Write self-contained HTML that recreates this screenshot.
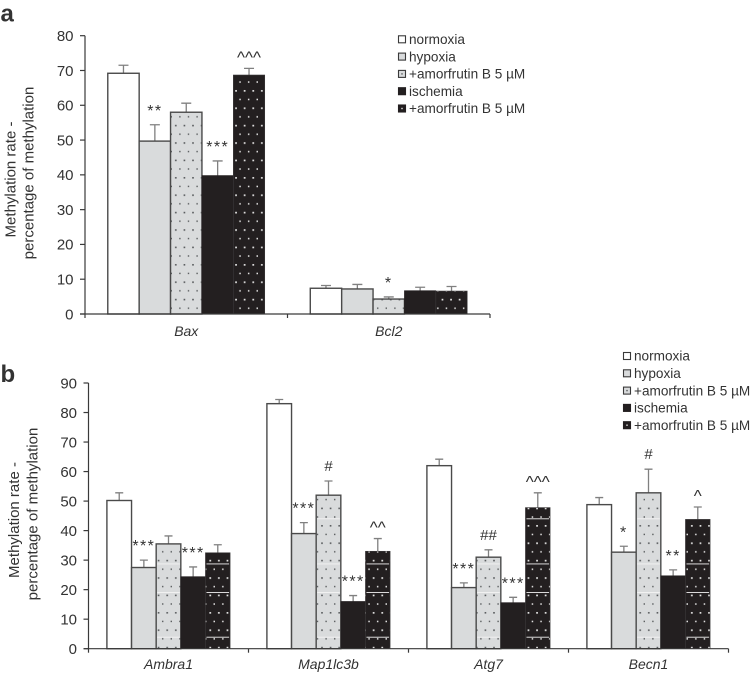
<!DOCTYPE html>
<html lang="en">
<head>
<meta charset="utf-8">
<title>Methylation rate charts</title>
<style>
html,body{margin:0;padding:0;background:#fff;}
svg{display:block;}
text{font-family:"Liberation Sans",Arial,sans-serif;fill:#333;}
</style>
</head>
<body>
<svg id="figure" xmlns="http://www.w3.org/2000/svg" width="750" height="674" viewBox="0 0 750 674">
<defs>
<pattern id="dots-light" width="8.6" height="17.4" patternUnits="userSpaceOnUse">
<rect width="8.6" height="17.4" fill="#d9dbdc"/>
<rect x="3" y="3" width="1.6" height="1.6" fill="#55585a"/>
<rect x="7.2" y="11.7" width="1.4" height="1.4" fill="#55585a"/>
</pattern>
<pattern id="dots-dark" width="8.6" height="17.4" patternUnits="userSpaceOnUse">
<rect width="8.6" height="17.4" fill="#231f20"/>
<rect x="3" y="3" width="1.7" height="1.7" fill="#e6e6e6"/>
<rect x="7.1" y="11.7" width="1.5" height="1.5" fill="#e6e6e6"/>
</pattern>
</defs>
</svg>
<script>
var seriesNames = ["normoxia", "hypoxia", "+amorfrutin B 5 µM", "ischemia", "+amorfrutin B 5 µM"];

var categoriesA = ["Bax", "Bcl2"];
var valuesA = [
  [69.2, 7.4],
  [49.7, 7.2],
  [58.0, 4.3],
  [39.8, 6.7],
  [68.7, 6.6]
];
var errorTopsA = [
  [71.5, 8.2],
  [54.4, 8.5],
  [60.6, 4.9],
  [44.0, 7.7],
  [70.6, 7.9]
];
var marksA = [
  ["", ""],
  ["**", ""],
  ["", "*"],
  ["***", ""],
  ["^^^", ""]
];
var ticksA = [0, 10, 20, 30, 40, 50, 60, 70, 80];

var categoriesB = ["Ambra1", "Map1lc3b", "Atg7", "Becn1"];
var valuesB = [
  [50.2, 83.0, 62.0, 48.8],
  [27.5, 39.0, 20.7, 32.7],
  [35.5, 52.0, 31.0, 52.8],
  [24.4, 16.0, 15.6, 24.7],
  [32.5, 33.0, 47.8, 43.8]
];
var errorTopsB = [
  [52.8, 84.4, 64.2, 51.2],
  [30.0, 42.7, 22.3, 34.7],
  [38.2, 56.8, 33.5, 60.8],
  [27.7, 18.0, 17.4, 26.7],
  [35.2, 37.3, 52.8, 48.0]
];
var marksB = [
  ["", "", "", ""],
  ["***", "***", "***", "*"],
  ["", "#", "##", "#"],
  ["***", "***", "***", "**"],
  ["", "^^", "^^^", "^"]
];
var ticksB = [0, 10, 20, 30, 40, 50, 60, 70, 80, 90];
var stripeValuesB = [3.9, 19, 28.7, 44];

var SVGNS = "http://www.w3.org/2000/svg";
var fig = document.getElementById("figure");
var fills = ["#ffffff", "#d9dbdc", "url(#dots-light)", "#231f20", "url(#dots-dark)"];

function make(tag, attrs, parent, txt) {
  var el = document.createElementNS(SVGNS, tag);
  for (var k in attrs) { el.setAttribute(k, attrs[k]); }
  if (txt !== undefined) { el.textContent = txt; }
  (parent || fig).appendChild(el);
  return el;
}

function drawChart(cfg) {
  var g = make("g", {});
  
  

  function yPos(v) { return cfg.y0 - (v - 0) * (cfg.y0 - cfg.yTop) / cfg.yMax; }
  var n = cfg.categories.length;
  var catW = (cfg.xEnd - cfg.x0) / n;
  var barW = catW * cfg.barFrac;
  var pad = (catW - barW * 5) / 2;
  function xPos(c, s) { return cfg.x0 + c * catW + pad + s * barW; }

  for (var s = 0; s < 5; s++) {
    for (var c = 0; c < n; c++) {
      var val = cfg.values[s][c];
      var x = xPos(c, s), top = yPos(val);
      var cx = x + barW / 2;
      var err = make("path", {
        d: "M" + cx + " " + top + "V" + yPos(cfg.errors[s][c]) + "m" + (-cfg.cap / 2) + " 0h" + cfg.cap,
        stroke: "#808080", "stroke-width": 1.3, fill: "none"
      }, g);
      
      
      var noStroke = s >= 3;
      var bar = make("rect", {
        x: x, y: top, width: barW, height: cfg.y0 - top,
        fill: fills[s],
        stroke: s === 4 ? "#3c3a3b" : (s === 3 ? "#231f20" : "#4a4a4a"),
        "stroke-width": noStroke ? 0.6 : 1.4
      }, g);
      
      
      if (cfg.stripes && (s === 2 || s === 4)) {
        cfg.stripes.forEach(function (sv) {
          if (sv < val - 1) {
            var st = make("line", {
              x1: x + 1, x2: x + barW - 1, y1: yPos(sv), y2: yPos(sv),
              stroke: "#f4f4f4", "stroke-width": 0.9
            }, g);
            
            
          }
        });
      }
      var mark = cfg.marks[s][c];
      if (mark) {
        var kind = mark.charAt(0);
        var lift = kind === "*" ? 9 : (kind === "^" ? 5.5 : 10);
        var size = kind === "*" ? 16 : (kind === "^" ? 17 : 15);
        var mt = make("text", {
          x: cx, y: yPos(cfg.errors[s][c]) - lift,
          "text-anchor": "middle", "font-size": size,
          "letter-spacing": kind === "*" ? 1.4 : 0,
          fill: "#333"
        }, g, mark);
        
        
      }
    }
  }

  var yAxis = make("line", { x1: cfg.x0, x2: cfg.x0, y1: cfg.yTop, y2: cfg.y0, stroke: "#3a3a3a", "stroke-width": 1.2 }, g);
  
  
  var xAxis = make("line", { x1: cfg.x0 - 5, x2: cfg.xEnd, y1: cfg.y0, y2: cfg.y0, stroke: "#3a3a3a", "stroke-width": 1.2 }, g);
  
  

  cfg.ticks.forEach(function (t) {
    var tk = make("line", { x1: cfg.x0 - 5, x2: cfg.x0, y1: yPos(t), y2: yPos(t), stroke: "#3a3a3a", "stroke-width": 1.2 }, g);
    
    
    var tl = make("text", { x: cfg.x0 - 11.5, y: yPos(t) + 5.3, "text-anchor": "end", "font-size": 15 }, g, t);
    
    
  });
  for (var i = 0; i <= n; i++) {
    var tx = cfg.x0 + i * catW;
    var xt = make("line", { x1: tx, x2: tx, y1: cfg.y0, y2: cfg.y0 + 4, stroke: "#3a3a3a", "stroke-width": 1.2 }, g);
    
    
  }
  cfg.categories.forEach(function (name, c) {
    var cl = make("text", {
      x: cfg.x0 + (c + 0.5) * catW, y: cfg.labelY, "text-anchor": "middle",
      "font-size": 14, "font-style": "italic"
    }, g, name);
    
    
  });

  var t1 = make("text", {
    transform: "translate(" + cfg.title1[0] + "," + cfg.title1[1] + ") rotate(-90)",
    "text-anchor": "middle", "font-size": 15
  }, g, "Methylation rate -");
  
  
  var t2 = make("text", {
    transform: "translate(" + cfg.title2[0] + "," + cfg.title2[1] + ") rotate(-90)",
    "text-anchor": "middle", "font-size": 15
  }, g, "percentage of methylation");
  
  

  var pl = make("text", { x: 0.5, y: cfg.panelY, "font-size": 24, "font-weight": "bold", fill: "#1a1a1a" }, g, cfg.panel);
  
  

  var lg = make("g", {}, g);
  
  
  seriesNames.forEach(function (nm, s) {
    var ly = cfg.legendY + s * 17.3;
    var sw = make("rect", {
      x: cfg.legendX, y: ly - 3.5, width: 7, height: 7,
      fill: s === 2 ? "#d9dbdc" : (s === 4 ? "#231f20" : fills[s]),
      stroke: s >= 3 ? "#231f20" : "#3a3a3a", "stroke-width": 1.1
    }, lg);
    
    
    if (s === 2 || s === 4) {
      var dot = make("rect", {
        x: cfg.legendX + 2.8, y: ly - 0.7, width: 1.4, height: 1.4,
        fill: s === 2 ? "#55585a" : "#e6e6e6"
      }, lg);
      
      
    }
    var lt = make("text", { x: cfg.legendX + 10.5, y: ly + 4.7, "font-size": 13.6 }, lg, nm);
    
    
  });
}

drawChart({
  name: "chart-a", panel: "a", panelY: 21.5,
  categories: categoriesA, values: valuesA, errors: errorTopsA, marks: marksA, ticks: ticksA,
  x0: 85, xEnd: 490, y0: 314, yTop: 35.7, yMax: 80, barFrac: 0.155, cap: 10,
  labelY: 336,
  title1: [15.5, 179.5], title2: [33.5, 173],
  legendX: 398.5, legendY: 39.3
});

drawChart({
  name: "chart-b", panel: "b", panelY: 382,
  categories: categoriesB, values: valuesB, errors: errorTopsB, marks: marksB, ticks: ticksB, stripes: stripeValuesB,
  x0: 88.5, xEnd: 728.5, y0: 648.7, yTop: 383, yMax: 90, barFrac: 0.154, cap: 8,
  labelY: 669,
  title1: [19, 520], title2: [37.5, 514],
  legendX: 623.5, legendY: 356
});
</script>
</body>
</html>
